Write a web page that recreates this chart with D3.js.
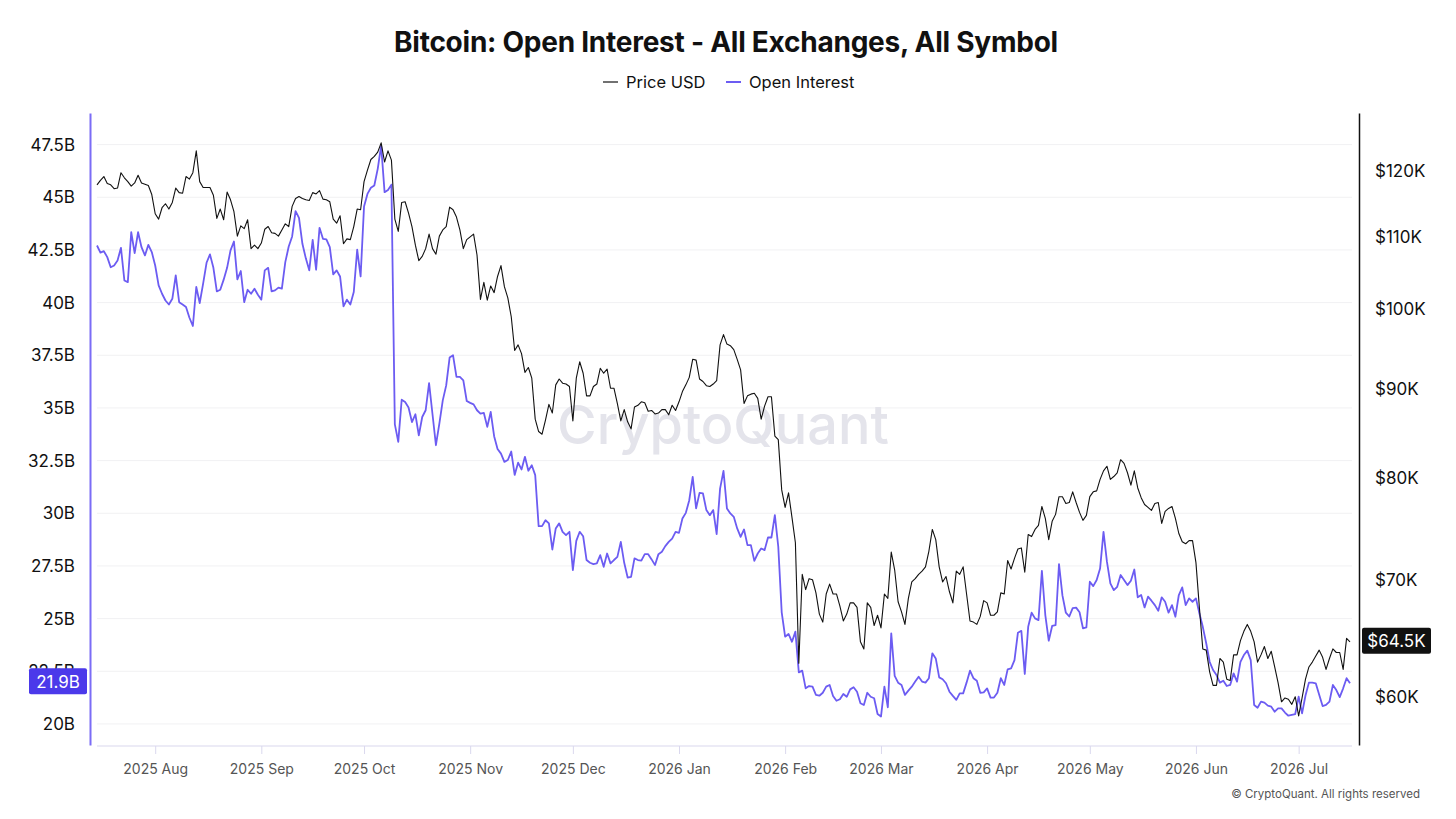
<!DOCTYPE html>
<html>
<head>
<meta charset="utf-8">
<script src="https://cdn.jsdelivr.net/npm/d3@7"></script>
<style>
  body { margin: 0; background: #fff; }
  svg { font-family: Inter, "Noto Sans", sans-serif; }
</style>
</head>
<body>
<svg id="chart" width="1456" height="819"></svg>
<script>
var width = 1456;
var height = 819;

// plot box
var plot = { l: 97, r: 1352, t: 113, b: 745 };

// daily series, first point 2025-07-15
var firstDay = "2025-07-15";

// BTC price, thousands of USD
var priceK = [
  117.8,118.5,119.1,118.0,117.8,117.2,117.3,119.7,118.9,118.3,
  117.6,118.1,119.3,118.1,117.9,117.7,116.3,113.4,112.6,114.3,
  114.9,114.1,115.1,117.3,116.6,116.5,119.1,118.7,119.7,123.2,
  118.3,117.4,117.4,117.4,116.2,112.7,114.1,112.5,116.7,115.5,
  113.7,110.1,111.6,111.2,112.5,108.3,108.8,108.3,109.1,111.1,
  111.5,110.6,110.5,110.1,111.0,111.9,111.5,114.5,115.7,116.0,
  115.7,115.5,115.4,116.6,116.4,116.9,115.6,115.5,115.2,112.6,
  112.0,113.1,109.0,109.7,109.6,111.5,114.1,114.0,118.3,120.1,
  121.8,122.3,123.0,124.5,121.4,123.2,121.7,112.6,110.8,115.1,
  115.2,113.5,111.5,108.8,106.6,107.2,108.3,110.4,108.3,107.5,
  110.1,111.0,111.5,114.4,114.0,112.9,111.0,108.3,109.6,110.0,
  110.4,107.4,101.3,103.6,101.2,103.1,102.2,104.4,105.9,103.0,
  101.5,99.0,94.7,95.4,94.3,92.0,92.6,91.3,86.5,85.1,
  84.8,86.4,88.2,87.2,90.5,91.2,90.7,90.6,90.3,86.3,
  91.3,93.3,91.9,89.2,89.2,90.3,90.6,92.5,91.9,92.4,
  90.1,90.1,88.3,86.3,87.6,86.2,85.4,87.9,88.1,88.5,
  88.4,87.4,87.5,87.1,87.2,87.6,87.6,87.0,88.1,87.5,
  88.5,89.7,90.5,91.4,93.6,93.5,91.2,90.9,90.4,90.3,
  90.6,91.0,95.4,96.7,95.5,95.3,94.8,93.6,92.3,88.3,
  89.2,89.4,89.5,88.9,86.5,88.0,89.1,89.1,84.6,84.2,
  78.8,77.0,78.5,76.0,73.5,62.7,70.5,69.1,70.1,70.0,
  68.8,66.9,66.2,68.7,69.6,68.7,68.7,67.6,66.3,66.9,
  67.9,67.9,67.5,64.5,63.9,67.9,67.5,65.9,66.8,65.7,
  68.7,68.3,72.6,70.9,68.0,67.1,66.0,68.3,69.8,70.1,
  70.5,70.8,71.2,72.7,74.8,73.8,71.2,69.8,70.3,68.9,
  67.9,70.8,70.5,71.2,68.7,66.3,66.2,66.0,66.7,68.1,
  67.9,66.8,66.8,67.1,68.8,68.7,71.8,71.0,72.0,72.9,
  73.0,70.7,74.3,74.1,74.8,75.2,77.1,75.9,73.8,75.6,
  76.3,78.1,78.1,77.4,77.5,78.6,77.5,76.5,75.7,76.2,
  78.1,78.6,78.7,79.9,80.8,81.3,79.9,80.2,80.6,82.0,
  81.6,80.6,79.3,80.8,79.0,78.0,77.3,77.0,76.7,77.4,
  77.5,75.4,76.6,76.9,77.1,75.9,74.4,73.6,73.4,73.7,
  73.7,71.6,67.5,63.9,63.8,62.0,60.9,60.9,63.1,62.8,
  61.4,61.3,63.4,63.4,64.6,65.4,66.0,65.4,64.5,62.8,
  63.4,64.1,63.1,63.7,62.4,61.1,59.6,59.9,59.8,59.4,
  60.0,58.5,59.9,61.4,62.4,62.8,63.3,63.8,63.2,62.2,
  63.1,63.9,63.6,63.6,62.2,64.8,64.5
];

// open interest, billions of USD
var openInterestB = [
  42.71,42.37,42.44,42.16,41.68,41.76,42.00,42.60,41.05,40.97,
  43.34,42.35,43.34,42.63,42.24,42.74,42.40,41.76,40.82,40.42,
  40.10,39.91,40.18,41.29,40.02,39.91,39.79,39.28,38.89,40.74,
  39.98,40.90,41.89,42.29,41.65,40.53,40.61,41.09,41.65,42.48,
  42.90,41.10,41.50,40.02,40.61,40.42,40.66,40.37,40.14,41.53,
  41.65,40.53,40.58,40.71,40.66,41.92,42.66,43.14,44.34,44.02,
  42.79,42.10,41.53,42.98,41.56,43.55,43.03,43.00,42.63,41.34,
  41.53,41.24,39.82,40.14,39.91,40.50,42.51,41.24,44.56,45.16,
  45.45,45.56,46.35,47.45,45.24,45.35,45.60,34.22,33.39,35.39,
  35.28,35.02,34.33,34.70,33.70,34.57,34.89,36.18,34.70,33.23,
  34.26,35.36,36.07,37.39,37.50,36.47,36.47,36.31,35.33,35.24,
  35.17,34.89,34.73,34.76,34.10,34.81,33.66,33.05,32.83,32.44,
  32.53,32.93,31.82,32.40,32.08,32.68,32.02,32.28,31.81,29.39,
  29.39,29.67,29.52,28.28,29.28,29.52,29.12,28.96,29.12,27.30,
  28.69,29.12,28.91,27.78,27.65,27.59,27.62,28.01,27.46,28.09,
  27.62,27.78,27.93,28.64,27.65,26.95,26.98,27.86,27.78,27.75,
  28.06,28.06,27.81,27.54,28.06,28.17,28.44,28.64,28.80,29.12,
  29.07,29.75,30.02,30.62,31.73,30.23,30.97,30.94,30.15,29.91,
  30.15,29.01,31.17,32.01,30.23,29.99,29.83,29.28,28.88,29.23,
  28.49,28.49,27.74,28.09,28.33,28.25,28.85,28.85,29.91,28.41,
  25.30,24.14,24.27,23.90,24.38,22.45,22.53,21.69,21.80,21.77,
  21.38,21.34,21.48,21.77,21.85,21.33,21.10,21.17,21.42,21.29,
  21.64,21.74,21.53,20.98,20.90,21.48,21.29,21.22,20.47,20.35,
  21.77,20.79,24.30,22.28,21.96,21.85,21.38,21.58,21.77,22.01,
  22.24,22.01,21.96,22.17,23.35,23.11,22.21,22.12,21.93,21.53,
  21.33,21.14,21.45,21.45,21.96,22.53,22.17,22.05,21.48,21.50,
  21.69,21.25,21.25,21.48,22.17,21.85,22.59,22.64,23.03,24.33,
  24.42,22.37,24.61,25.28,25.01,24.93,27.27,25.17,23.95,24.65,
  24.69,27.59,26.10,25.28,25.10,25.50,25.52,25.30,24.54,24.58,
  26.75,26.54,26.83,27.38,29.12,27.70,26.67,26.35,26.51,27.07,
  26.83,26.59,26.80,27.33,26.01,26.12,25.53,26.04,25.85,25.64,
  25.37,26.01,25.80,25.28,25.64,25.09,26.12,26.48,25.64,25.96,
  25.80,25.96,25.25,24.61,23.83,22.95,22.56,22.32,21.96,22.05,
  21.80,21.85,22.40,22.01,22.95,23.27,23.48,23.03,20.90,20.77,
  21.06,21.01,20.87,20.82,20.58,20.74,20.74,20.54,20.39,20.43,
  20.47,21.29,20.50,21.35,21.96,21.96,21.93,21.38,20.85,20.90,
  21.06,21.85,21.61,21.27,21.69,22.17,21.93
];

var oiTicks = [20, 22.5, 25, 27.5, 30, 32.5, 35, 37.5, 40, 42.5, 45, 47.5];
var priceTicks = [60, 70, 80, 90, 100, 110, 120];

var purple = "#6c5cf2";
var svg = d3.select("#chart");

var parseDay = d3.utcParse("%Y-%m-%d");
var start = parseDay(firstDay);
var rows = priceK.map(function (p, i) {
    return { date: d3.utcDay.offset(start, i), price: p, oi: openInterestB[i] };
});

// scales
var x = d3.scaleUtc()
    .domain(d3.extent(rows, d => d.date))
    .range([97, 1350]);
var yOi = d3.scaleLinear().domain([19, 49]).range([plot.b, plot.t]);
var yPrice = d3.scaleLog().domain([56.3, 129.5]).range([plot.b, plot.t]);

// grid
svg.append("g")
    .selectAll("line")
    .data(oiTicks)
    .enter()
    .append("line")
    .attr("x1", plot.l)
    .attr("x2", plot.r)
    .attr("y1", d => yOi(d))
    .attr("y2", d => yOi(d))
    .attr("stroke", "#f1f1f3")
    .attr("stroke-width", 1);

// watermark
svg.append("text")
    .attr("x", 723)
    .attr("y", 444)
    .attr("text-anchor", "middle")
    .style("font-size", "54px")
    .style("font-weight", 500)
    .style("fill", "#e4e4eb")
    .text("CryptoQuant");

// title + legend
svg.append("text")
    .attr("x", 726)
    .attr("y", 52)
    .attr("text-anchor", "middle")
    .style("font-size", "28px")
    .style("font-weight", 700)
    .style("letter-spacing", "-0.25px")
    .style("fill", "#111")
    .text("Bitcoin: Open Interest - All Exchanges, All Symbol");

var legend = svg.append("g");
legend.append("line")
    .attr("x1", 603).attr("x2", 618).attr("y1", 82).attr("y2", 82)
    .attr("stroke", "#111").attr("stroke-width", 1.2);
legend.append("text")
    .attr("x", 626).attr("y", 88)
    .style("font-size", "16.5px").style("fill", "#111")
    .text("Price USD");
legend.append("line")
    .attr("x1", 726).attr("x2", 741).attr("y1", 82).attr("y2", 82)
    .attr("stroke", purple).attr("stroke-width", 2);
legend.append("text")
    .attr("x", 749).attr("y", 88)
    .style("font-size", "16.5px").style("fill", "#111")
    .text("Open Interest");

// bottom axis
svg.append("line")
    .attr("x1", plot.l).attr("x2", plot.r)
    .attr("y1", plot.b + 1).attr("y2", plot.b + 1)
    .attr("stroke", "#dad8ee").attr("stroke-width", 1.2);

var xAxis = svg.append("g")
    .attr("transform", "translate(0," + (plot.b + 1) + ")")
    .call(d3.axisBottom(x)
        .ticks(d3.utcMonth.every(1))
        .tickFormat(d3.utcFormat("%Y %b"))
        .tickSize(8)
        .tickPadding(10));
xAxis.select(".domain").remove();
xAxis.selectAll(".tick line").attr("stroke", "#dad8ee");
xAxis.selectAll(".tick text")
    .style("font-size", "14px")
    .style("font-family", "Inter, sans-serif")
    .style("fill", "#555");

// left axis (open interest)
var leftAxis = svg.append("g")
    .attr("transform", "translate(90,0)")
    .call(d3.axisLeft(yOi)
        .tickValues(oiTicks)
        .tickSize(0)
        .tickPadding(15)
        .tickFormat(d => d + "B"));
leftAxis.select(".domain").attr("stroke", "#7b6cf6").attr("stroke-width", 2);
leftAxis.selectAll(".tick text")
    .style("font-size", "17px")
    .style("font-family", "Inter, sans-serif")
    .style("fill", "#111");

// right axis (price)
var rightAxis = svg.append("g")
    .attr("transform", "translate(1359,0)")
    .call(d3.axisRight(yPrice)
        .tickValues(priceTicks)
        .tickSize(0)
        .tickPadding(16)
        .tickFormat(d => "$" + d + "K"));
rightAxis.select(".domain").attr("stroke", "#111").attr("stroke-width", 1.5);
rightAxis.selectAll(".tick text")
    .style("font-size", "17px")
    .style("font-family", "Inter, sans-serif")
    .style("fill", "#111");

// lines
var oiLine = d3.line().x(d => x(d.date)).y(d => yOi(d.oi));
var priceLine = d3.line().x(d => x(d.date)).y(d => yPrice(d.price));

svg.append("path")
    .datum(rows)
    .attr("d", oiLine)
    .attr("fill", "none")
    .attr("stroke", purple)
    .attr("stroke-width", 1.8)
    .attr("stroke-linejoin", "round");

svg.append("path")
    .datum(rows)
    .attr("d", priceLine)
    .attr("fill", "none")
    .attr("stroke", "#111")
    .attr("stroke-width", 1.1)
    .attr("stroke-linejoin", "round");

// last value badges
var last = rows[rows.length - 1];
var oiY = yOi(last.oi);
svg.append("rect")
    .attr("x", 29).attr("y", oiY - 15)
    .attr("width", 58).attr("height", 26)
    .attr("rx", 2)
    .attr("fill", "#4b39ea");
svg.append("text")
    .attr("x", 58).attr("y", oiY + 4.5)
    .attr("text-anchor", "middle")
    .style("font-size", "17px")
    .style("fill", "#fff")
    .text(d3.format(".1f")(last.oi) + "B");

var pY = yPrice(last.price);
svg.append("rect")
    .attr("x", 1362).attr("y", pY - 14)
    .attr("width", 69).attr("height", 26)
    .attr("rx", 2)
    .attr("fill", "#111");
svg.append("text")
    .attr("x", 1396.5).attr("y", pY + 5.5)
    .attr("text-anchor", "middle")
    .style("font-size", "17px")
    .style("fill", "#fff")
    .text("$" + d3.format(".1f")(last.price) + "K");

// footer
svg.append("text")
    .attr("x", 1420)
    .attr("y", 798)
    .attr("text-anchor", "end")
    .style("font-size", "11.5px")
    .style("fill", "#555")
    .text("\u00a9 CryptoQuant. All rights reserved");
</script>
</body>
</html>
